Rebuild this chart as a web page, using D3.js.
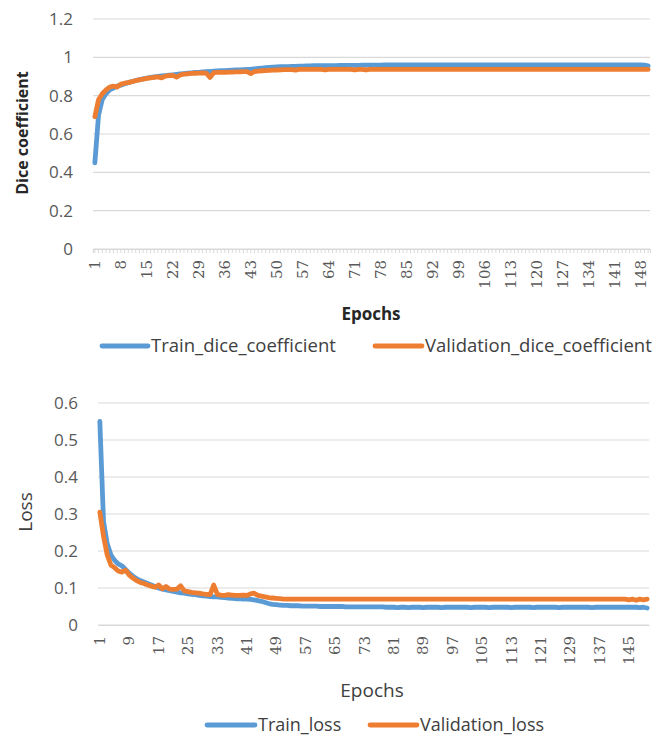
<!DOCTYPE html>
<html><head><meta charset="utf-8">
<script src="https://cdn.jsdelivr.net/npm/d3@7"></script>
<style>
body{margin:0;background:#fff;}
svg{display:block;}
text{font-family:"Open Sans",sans-serif;}
</style></head>
<body><svg id="chart" width="654" height="735"></svg>
<script>
// ---------- DATA ----------
const epochs = d3.range(1, 151);
const diceTickLabels = [1,8,15,22,29,36,43,50,57,64,71,78,85,92,99,106,113,120,127,134,141,148];
const lossTickLabels = [1,9,17,25,33,41,49,57,65,73,81,89,97,105,113,121,129,137,145];
const diceYTicks = [0,0.2,0.4,0.6,0.8,1,1.2];
const lossYTicks = [0,0.1,0.2,0.3,0.4,0.5,0.6];

const trainDice = [
 0.45,0.70,0.78,0.81,0.83,0.84,0.85,0.855,0.862,0.868,
 0.874,0.879,0.884,0.888,0.892,0.895,0.898,0.901,0.903,0.905,
 0.907,0.909,0.911,0.913,0.915,0.917,0.919,0.921,0.922,0.924,
 0.925,0.926,0.928,0.929,0.930,0.931,0.932,0.933,0.934,0.935,
 0.936,0.937,0.938,0.940,0.942,0.944,0.946,0.948,0.949,0.950,
 0.951,0.952,0.952,0.953,0.953,0.954,0.954,0.955,0.955,0.956,
 0.956,0.956,0.957,0.957,0.957,0.957,0.958,0.958,0.958,0.958,
 0.958,0.958,0.959,0.959,0.959,0.959,0.959,0.959,0.960,0.960,
 0.960,0.961,0.960,0.960,0.960,0.961,0.960,0.960,0.960,0.960,
 0.961,0.960,0.960,0.960,0.960,0.961,0.960,0.960,0.960,0.960,
 0.960,0.960,0.961,0.960,0.960,0.960,0.960,0.960,0.960,0.960,
 0.961,0.960,0.960,0.960,0.960,0.960,0.960,0.960,0.961,0.960,
 0.960,0.960,0.960,0.960,0.960,0.960,0.960,0.960,0.960,0.960,
 0.960,0.960,0.961,0.960,0.960,0.960,0.960,0.960,0.960,0.960,
 0.960,0.960,0.960,0.960,0.960,0.960,0.960,0.960,0.959,0.955];

const valDice = [
 0.69,0.78,0.81,0.83,0.845,0.85,0.845,0.86,0.865,0.868,
 0.873,0.878,0.882,0.886,0.890,0.893,0.896,0.898,0.893,0.902,
 0.904,0.906,0.897,0.908,0.912,0.914,0.916,0.917,0.918,0.919,
 0.918,0.895,0.920,0.921,0.922,0.922,0.923,0.923,0.924,0.924,
 0.925,0.925,0.915,0.926,0.928,0.930,0.931,0.932,0.933,0.934,
 0.935,0.936,0.936,0.936,0.933,0.937,0.937,0.937,0.937,0.937,
 0.937,0.937,0.934,0.937,0.937,0.937,0.937,0.937,0.937,0.937,
 0.934,0.937,0.937,0.934,0.937,0.937,0.937,0.937,0.937,0.937,
 0.937,0.937,0.937,0.937,0.937,0.937,0.937,0.937,0.937,0.937,
 0.937,0.937,0.937,0.937,0.937,0.937,0.937,0.937,0.937,0.937,
 0.937,0.937,0.937,0.937,0.937,0.937,0.937,0.937,0.937,0.937,
 0.937,0.937,0.937,0.937,0.937,0.937,0.937,0.937,0.937,0.937,
 0.937,0.937,0.937,0.937,0.937,0.937,0.937,0.937,0.937,0.937,
 0.937,0.937,0.937,0.937,0.937,0.937,0.937,0.937,0.937,0.937,
 0.937,0.937,0.937,0.937,0.937,0.937,0.937,0.937,0.937,0.937];

const trainLoss = [
 0.55,0.28,0.22,0.19,0.175,0.165,0.160,0.150,0.140,0.132,
 0.125,0.120,0.116,0.112,0.108,0.104,0.100,0.097,0.095,0.093,
 0.091,0.089,0.087,0.086,0.084,0.083,0.082,0.080,0.079,0.078,
 0.077,0.076,0.076,0.075,0.074,0.073,0.072,0.071,0.071,0.070,
 0.070,0.069,0.068,0.066,0.064,0.061,0.058,0.056,0.055,0.054,
 0.053,0.053,0.052,0.052,0.052,0.051,0.051,0.051,0.051,0.051,
 0.050,0.050,0.050,0.050,0.050,0.050,0.050,0.049,0.049,0.049,
 0.049,0.049,0.049,0.049,0.049,0.049,0.049,0.049,0.048,0.048,
 0.048,0.047,0.048,0.048,0.047,0.048,0.048,0.048,0.047,0.048,
 0.048,0.048,0.048,0.047,0.048,0.048,0.048,0.048,0.048,0.048,
 0.048,0.047,0.048,0.048,0.048,0.048,0.047,0.048,0.048,0.048,
 0.048,0.048,0.047,0.048,0.048,0.048,0.048,0.048,0.047,0.048,
 0.048,0.048,0.048,0.048,0.048,0.047,0.048,0.048,0.048,0.048,
 0.048,0.048,0.048,0.048,0.047,0.048,0.048,0.048,0.048,0.048,
 0.048,0.048,0.048,0.048,0.048,0.048,0.048,0.047,0.048,0.046];

const valLoss = [
 0.305,0.24,0.19,0.162,0.155,0.146,0.143,0.148,0.135,0.127,
 0.120,0.115,0.112,0.108,0.105,0.102,0.108,0.098,0.104,0.097,
 0.096,0.097,0.106,0.092,0.090,0.088,0.087,0.086,0.084,0.083,
 0.082,0.108,0.083,0.081,0.080,0.082,0.081,0.080,0.080,0.081,
 0.080,0.084,0.086,0.080,0.078,0.076,0.074,0.073,0.072,0.071,
 0.070,0.070,0.070,0.070,0.070,0.070,0.070,0.070,0.070,0.070,
 0.070,0.070,0.070,0.070,0.070,0.070,0.070,0.070,0.070,0.070,
 0.070,0.070,0.070,0.070,0.070,0.070,0.070,0.070,0.070,0.070,
 0.070,0.070,0.070,0.070,0.070,0.070,0.070,0.070,0.070,0.070,
 0.070,0.070,0.070,0.070,0.070,0.070,0.070,0.070,0.070,0.070,
 0.070,0.070,0.070,0.070,0.070,0.070,0.070,0.070,0.070,0.070,
 0.070,0.070,0.070,0.070,0.070,0.070,0.070,0.070,0.070,0.070,
 0.070,0.070,0.070,0.070,0.070,0.070,0.070,0.070,0.070,0.070,
 0.070,0.070,0.070,0.070,0.070,0.070,0.070,0.070,0.070,0.070,
 0.070,0.070,0.070,0.070,0.068,0.070,0.067,0.070,0.068,0.070];

const BLUE = "#5B9BD5", ORANGE = "#ED7D31";

const svg = d3.select("#chart");

function drawChart(cfg) {
  const g = svg.append("g");
  const x = d3.scaleBand().domain(epochs).range([cfg.left, cfg.right]).padding(0);
  const y = d3.scaleLinear().domain(cfg.yDomain).range([cfg.bottom, cfg.top]);
  const cx = d => x(d) + x.bandwidth() / 2;

  // gridlines
  g.append("g").selectAll("line").data(cfg.yTicks).join("line")
    .attr("x1", cfg.left).attr("x2", cfg.right)
    .attr("y1", d => y(d)).attr("y2", d => y(d))
    .attr("stroke", "#d9d9d9").attr("stroke-width", 1.2);

  // y axis labels
  const yAxis = d3.axisLeft(y).tickValues(cfg.yTicks).tickSize(0).tickPadding(cfg.yPad)
    .tickFormat(d => d3.format("~g")(d));
  const ya = g.append("g").attr("transform", `translate(${cfg.left},0)`).call(yAxis);
  ya.select(".domain").remove();
  ya.selectAll("text").attr("font-size", 17).attr("fill", "#595959")
    .style("font-family", '"Open Sans",sans-serif');

  // x axis
  const xAxis = d3.axisBottom(x).tickValues(cfg.minorTicks ? epochs : cfg.xTicks)
    .tickSize(cfg.minorTicks ? 4 : 0).tickPadding(0)
    .tickFormat(d => cfg.xTicks.includes(d) ? d : "");
  const xa = g.append("g").attr("transform", `translate(0,${cfg.bottom})`).call(xAxis);
  xa.select(".domain").attr("stroke", "#d9d9d9").attr("stroke-width", 1.2);
  xa.selectAll(".tick line").attr("stroke", "#d9d9d9");
  xa.selectAll("text")
    .attr("transform", "rotate(-90)")
    .attr("text-anchor", "end")
    .attr("x", -cfg.xLabPad).attr("y", 0).attr("dy", "0.35em")
    .attr("font-size", 15).attr("fill", "#595959")
    .style("font-family", '"DejaVu Serif",serif');

  // lines
  const line = d3.line().x((d, i) => cx(epochs[i])).y(d => y(d));
  g.append("path").datum(cfg.train).attr("d", line).attr("fill", "none")
    .attr("stroke", BLUE).attr("stroke-width", 4.8).attr("stroke-linejoin", "round").attr("stroke-linecap", "round");
  g.append("path").datum(cfg.val).attr("d", line).attr("fill", "none")
    .attr("stroke", ORANGE).attr("stroke-width", 4.8).attr("stroke-linejoin", "round").attr("stroke-linecap", "round");

  // titles
  g.append("text").attr("transform", `translate(${cfg.yTitleX},${(cfg.top + cfg.bottom) / 2 + cfg.yTitleDy}) rotate(-90)`)
    .attr("text-anchor", "middle").attr("font-size", cfg.titleSize).attr("font-weight", cfg.titleWeight)
    .attr("fill", cfg.titleColor).text(cfg.yTitle);
  g.append("text").attr("x", cfg.xTitleX).attr("y", cfg.xTitleY)
    .attr("text-anchor", "middle").attr("font-size", cfg.xTitleSize).attr("font-weight", cfg.titleWeight)
    .attr("fill", cfg.titleColor).text("Epochs");

  // legend
  cfg.legend.forEach(l => {
    g.append("line").attr("x1", l.x).attr("x2", l.x + l.len).attr("y1", cfg.legendY).attr("y2", cfg.legendY)
      .attr("stroke", l.color).attr("stroke-width", 4.8).attr("stroke-linecap", "round");
    g.append("text").attr("x", l.x + l.len + 3).attr("y", cfg.legendY).attr("dy", "0.35em")
      .attr("font-size", cfg.legendSize).attr("fill", "#404040").text(l.label);
  });
}

drawChart({
  left: 93, right: 650, top: 19, bottom: 249, yDomain: [0, 1.2], yTicks: diceYTicks, yPad: 20,
  xTicks: diceTickLabels, minorTicks: true, xLabPad: 11,
  train: trainDice, val: valDice,
  yTitle: "Dice coefficient", yTitleX: 28, yTitleDy: -1, titleSize: 16, titleWeight: "bold", titleColor: "#262626",
  xTitleX: 371, xTitleY: 320, xTitleSize: 17,
  legendY: 346, legendSize: 18.5,
  legend: [{x: 102, len: 46, color: BLUE, label: "Train_dice_coefficient"},
           {x: 375, len: 47, color: ORANGE, label: "Validation_dice_coefficient"}]
});

drawChart({
  left: 98, right: 649, top: 403, bottom: 625, yDomain: [0, 0.6], yTicks: lossYTicks, yPad: 20,
  xTicks: lossTickLabels, minorTicks: false, xLabPad: 11,
  train: trainLoss, val: valLoss,
  yTitle: "Loss", yTitleX: 32, yTitleDy: -2, titleSize: 19, titleWeight: "normal", titleColor: "#404040",
  xTitleX: 372, xTitleY: 697, xTitleSize: 19,
  legendY: 725, legendSize: 18,
  legend: [{x: 207, len: 48, color: BLUE, label: "Train_loss"},
           {x: 370, len: 47, color: ORANGE, label: "Validation_loss"}]
});
</script></body></html>
